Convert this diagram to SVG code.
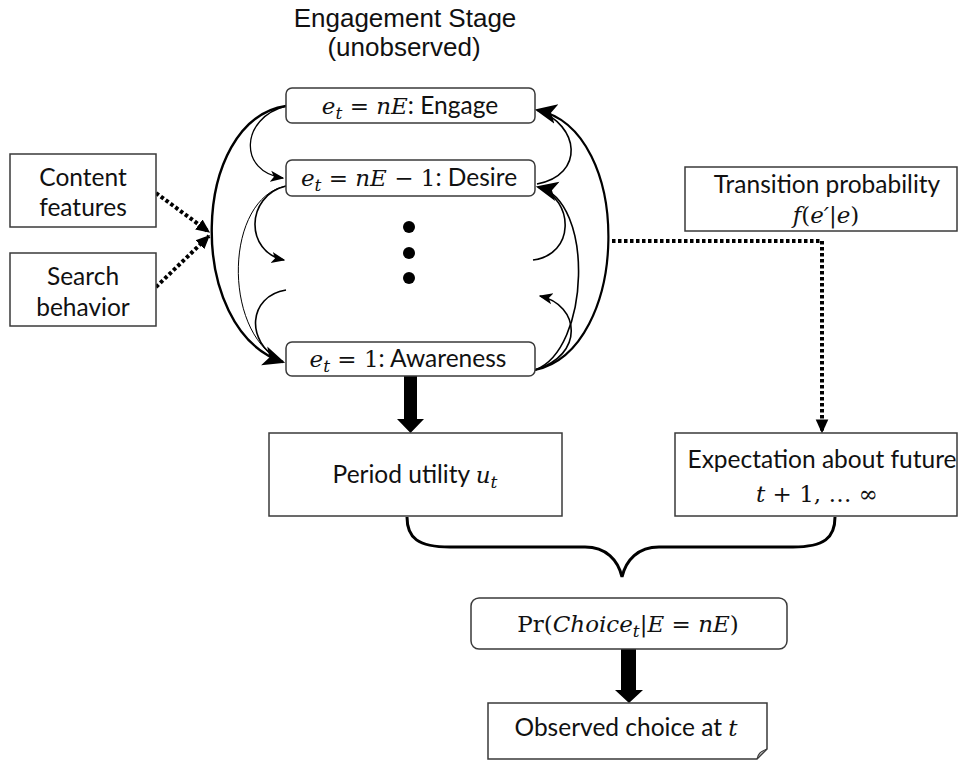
<svg xmlns="http://www.w3.org/2000/svg" width="960" height="762" viewBox="0 0 960 762">
<style>
.box{fill:#fff;stroke:#3a3a3a;stroke-width:1.5}
.t{font-family:Lato,"Liberation Sans",sans-serif;font-size:24.5px;fill:#111}
.m{font-family:"DejaVu Serif","Liberation Serif",serif;font-style:italic;font-size:23px}
.r{font-family:"DejaVu Serif","Liberation Serif",serif;font-style:normal;font-size:23px}
.s{font-family:"DejaVu Serif","Liberation Serif",serif;font-style:italic;font-size:17px}
.title{font-family:"Liberation Sans",Arial,sans-serif;font-size:26px;fill:#111;text-anchor:middle}
.arc{fill:none;stroke:#000}
.dot{fill:none;stroke:#000;stroke-width:4;stroke-dasharray:3.5 2.5}
</style>
<defs>
<marker id="sa" markerUnits="userSpaceOnUse" markerWidth="14" markerHeight="14" viewBox="0 0 10 10" refX="9" refY="5" orient="auto"><path d="M0,1 L10,5 L0,9 L2.5,5 Z" fill="#000"/></marker>
<marker id="ba" markerUnits="userSpaceOnUse" markerWidth="22" markerHeight="22" viewBox="0 0 10 10" refX="9" refY="5" orient="auto"><path d="M0,0.5 L10,5 L0,9.5 L2.5,5 Z" fill="#000"/></marker>
<marker id="da" markerUnits="userSpaceOnUse" markerWidth="14" markerHeight="14" viewBox="0 0 10 10" refX="9" refY="5" orient="auto"><path d="M0,0.5 L10,5 L0,9.5 Z" fill="#000"/></marker>
</defs>

<text class="title" x="405" y="27">Engagement Stage</text>
<text class="title" x="404" y="56">(unobserved)</text>

<g id="connectors">
<!-- left arcs -->
<path class="arc" stroke-width="2.4" d="M286,106 C190,120 185,330 283,362" marker-end="url(#ba)"/>
<path class="arc" stroke-width="1.3" d="M286,106 C240,118 238,172 283,178" marker-end="url(#sa)"/>
<path class="arc" stroke-width="1" stroke="#555" d="M286,186 C225,198 222,330 280,360"/>
<path class="arc" stroke-width="1.6" d="M286,186 C245,196 245,252 284,260" marker-end="url(#sa)"/>
<path class="arc" stroke-width="1.6" d="M286,290 C248,296 245,342 280,360"/>
<!-- right arcs -->
<path class="arc" stroke-width="2.2" d="M535,370 C630,350 635,130 537,110" marker-end="url(#ba)"/>
<path class="arc" stroke-width="1.6" d="M537,184 C585,175 580,125 537,110"/>
<path class="arc" stroke-width="1.6" d="M535,370 C590,350 595,200 538,187" marker-end="url(#ba)"/>
<path class="arc" stroke-width="1.6" d="M533,260 C575,255 575,200 538,187"/>
<path class="arc" stroke-width="1.6" d="M535,370 C585,355 580,305 540,296" marker-end="url(#sa)"/>
<!-- dotted -->
<path class="dot" d="M156,193 L209,232" marker-end="url(#da)"/>
<path class="dot" d="M156,287 L209,236" marker-end="url(#da)"/>
<path class="dot" d="M612,241 H822 V432" marker-end="url(#da)"/>
<!-- thick arrows -->
<polygon points="404,376 417,376 417,419 424,419 410.5,433 397,419 404,419" fill="#000"/>
<polygon points="621,649 636,649 636,690 643,690 629,703 615,690 621,690" fill="#000"/>
<!-- brace -->
<path class="arc" stroke-width="3" d="M407,517 C407,538 418,547 450,547 L585,547 C606,547 618,560 622,577 C626,560 638,547 659,547 L793,547 C824,547 835,538 835,517"/>
</g>

<g id="engage">
<rect class="box" x="286" y="88" width="249" height="35" rx="6"/>
<text class="t" x="410" y="114" text-anchor="middle"><tspan class="m">e</tspan><tspan class="s" dy="5">t</tspan><tspan class="r" dy="-5"> = </tspan><tspan class="m">nE</tspan>: Engage</text>
</g>
<g id="desire">
<rect class="box" x="286" y="160" width="249" height="36" rx="6"/>
<text class="t" x="409" y="186" text-anchor="middle"><tspan class="m">e</tspan><tspan class="s" dy="5">t</tspan><tspan class="r" dy="-5"> = </tspan><tspan class="m">nE</tspan><tspan class="r"> − 1</tspan>: Desire</text>
</g>
<g id="dots">
<circle cx="409" cy="227" r="6" fill="#000"/>
<circle cx="409" cy="253" r="6" fill="#000"/>
<circle cx="409" cy="278" r="6" fill="#000"/>
</g>
<g id="awareness">
<rect class="box" x="286" y="342" width="249" height="34" rx="6"/>
<text class="t" x="408" y="367" text-anchor="middle"><tspan class="m">e</tspan><tspan class="s" dy="5">t</tspan><tspan class="r" dy="-5"> = 1</tspan>: Awareness</text>
</g>
<g id="content">
<rect class="box" x="10" y="154" width="146" height="73"/>
<text class="t" x="83" y="186" text-anchor="middle">Content</text>
<text class="t" x="83" y="216" text-anchor="middle">features</text>
</g>
<g id="search">
<rect class="box" x="10" y="253" width="146" height="73"/>
<text class="t" x="83" y="285" text-anchor="middle">Search</text>
<text class="t" x="83" y="316" text-anchor="middle">behavior</text>
</g>
<g id="transition">
<rect class="box" x="685" y="167" width="272" height="64"/>
<text class="t" x="827" y="193" text-anchor="middle">Transition probability</text>
<text class="t" x="826" y="223" text-anchor="middle"><tspan class="m">f</tspan><tspan class="r">(</tspan><tspan class="m">e′</tspan><tspan class="r">|</tspan><tspan class="m">e</tspan><tspan class="r">)</tspan></text>
</g>
<g id="period">
<rect class="box" x="269" y="433" width="293" height="83"/>
<text class="t" x="415" y="483" text-anchor="middle">Period utility <tspan class="m">u</tspan><tspan class="s" dy="5">t</tspan></text>
</g>
<g id="expectation">
<rect class="box" x="675" y="433" width="282" height="83"/>
<text class="t" x="822" y="468" text-anchor="middle">Expectation about future</text>
<text class="t" x="817" y="502" text-anchor="middle"><tspan class="m">t</tspan><tspan class="r"> + 1, … ∞</tspan></text>
</g>
<g id="prob">
<rect class="box" x="471" y="598" width="316" height="51" rx="8"/>
<text class="t" x="628" y="632" text-anchor="middle"><tspan class="r">Pr(</tspan><tspan class="m">Choice</tspan><tspan class="s" dy="5">t</tspan><tspan class="r" dy="-5">|</tspan><tspan class="m">E</tspan><tspan class="r"> = </tspan><tspan class="m">nE</tspan><tspan class="r">)</tspan></text>
</g>
<g id="observed">
<path class="box" d="M488,703 H767 V749 L757,759 H488 Z"/>
<path d="M757,759 C758,754 760,752 767,749" fill="none" stroke="#3a3a3a" stroke-width="1.2"/>
<text class="t" x="626" y="736" text-anchor="middle">Observed choice at <tspan class="m">t</tspan></text>
</g>
</svg>
